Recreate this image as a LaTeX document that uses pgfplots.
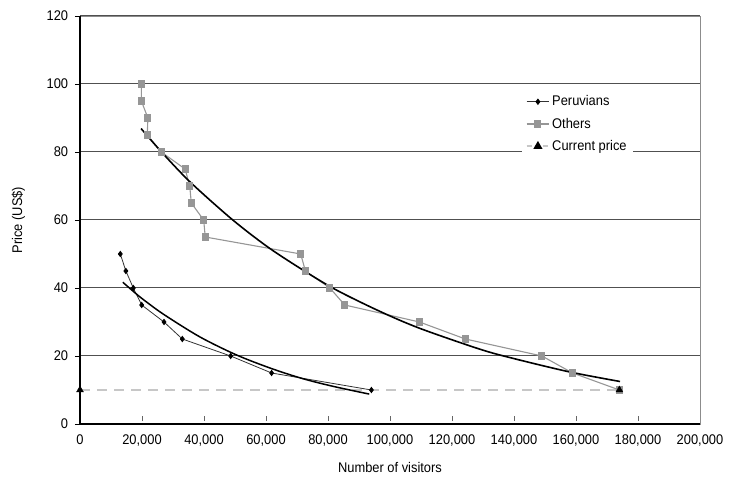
\documentclass[border=0pt]{standalone}
\usepackage{fontspec}
\setmainfont{Liberation Sans}[FakeStretch=0.92]
\usepackage{pgfplots}
\pgfplotsset{compat=1.18}
\definecolor{othersgray}{RGB}{150,150,150}
\definecolor{gridgray}{RGB}{80,80,80}
\begin{document}
\fontsize{14}{17}\selectfont
\begin{tikzpicture}
  \begin{axis}[
    scale only axis,
    width=620pt, height=408pt,
    xmin=0, xmax=200000,
    ymin=0, ymax=120,
    scaled ticks=false,
    xtick={0,20000,40000,60000,80000,100000,120000,140000,160000,180000,200000},
    xticklabels={0,{20,000},{40,000},{60,000},{80,000},{100,000},{120,000},{140,000},{160,000},{180,000},{200,000}},
    ytick={0,20,40,60,80,100,120},
    yticklabels={0,20,40,60,80,100,120},
    xtick pos=bottom, ytick pos=left,
    tick align=outside,
    major tick length=5pt,
    xtick style={black!60, yshift=8pt, line width=0.6pt},
    ytick style={black, line width=0.6pt},
    ymajorgrids,
    grid style={gridgray, line width=1pt},
    axis line style={black!45, line width=0.8pt},
    xlabel={Number of visitors},
    ylabel={Price (US\$)},
    xlabel style={yshift=-6pt},
    ylabel style={yshift=12pt},
    yticklabel style={xshift=-2pt},
    xticklabel style={yshift=-1pt},
    clip=false,
    legend style={at={(0.712,0.82)}, anchor=north west, draw=none, fill=white,
      inner xsep=4pt, inner ysep=4pt, row sep=6pt,
      font=\fontsize{14}{17}\selectfont, cells={anchor=west}},
    legend image code/.code={\draw[mark repeat=2,mark phase=2,#1] plot coordinates {(0cm,0cm) (0.4cm,0cm) (0.8cm,0cm)};},
  ]
    % page extent as in the reference
    \path (rel axis cs:0,1) ++(-80pt,16pt) coordinate (tl);
    \path (rel axis cs:1,0) ++(29pt,-62pt) coordinate (br);
    \path (tl) (br);

    % black left and bottom axis lines
    \draw[black, line width=1.1pt] (rel axis cs:0,1) -- (rel axis cs:0,0) -- (rel axis cs:1,0);

    % current price line (marks drawn later)
    \addplot[black!22, line width=2.3pt, dash pattern=on 10pt off 7pt, forget plot]
      coordinates {(0,10) (174000,10)};

    \addplot[black!80, line width=0.8pt, mark=diamond*, mark size=2.6pt, mark options={black, solid}]
      coordinates {
        (13000,50) (14800,45) (17200,40) (19900,35) (27100,30)
        (33000,25) (48600,20) (61800,15) (94000,10)
      };
    \addlegendentry{Peruvians}

    \addplot[othersgray, line width=1.1pt, mark=square*, mark size=3pt, mark options={othersgray, solid}]
      coordinates {
        (19800,100) (19800,95) (21900,90) (21700,85) (26200,80)
        (33900,75) (35400,70) (35900,65) (39900,60) (40400,55)
        (71200,50) (72700,45) (80600,40) (85400,35) (109500,30)
        (124300,25) (149000,20) (158900,15) (174000,10)
      };
    \addlegendentry{Others}

    % trend lines
    \addplot[black, line width=1.5pt, smooth, forget plot]
      coordinates {
        (13800,41.7) (16700,39.4) (20000,36.9) (26900,32.3) (38700,25.6)
        (50500,20.3) (61800,16.3) (72000,13.3) (82000,11.0) (93300,8.8)
      };
    \addplot[black, line width=1.6pt, smooth, forget plot]
      coordinates {
        (19700,86.9) (26300,80.0) (35500,71.2) (48900,60.3) (60200,52.3)
        (71000,45.8) (82300,39.6) (96800,33.1) (109700,28.1) (129000,22.0)
        (139700,19.3) (158000,15.3) (174200,12.5)
      };

    % current price marks
    \addplot[only marks, mark=triangle*, mark size=4pt, black, forget plot]
      coordinates {(0,10) (174000,10)};

    \addlegendimage{black!22, line width=1.8pt, dash pattern=on 5pt off 3pt, mark=triangle*, mark size=3.5pt, mark options={black, solid}}
    \addlegendentry{Current price}
  \end{axis}
\end{tikzpicture}
\end{document}
